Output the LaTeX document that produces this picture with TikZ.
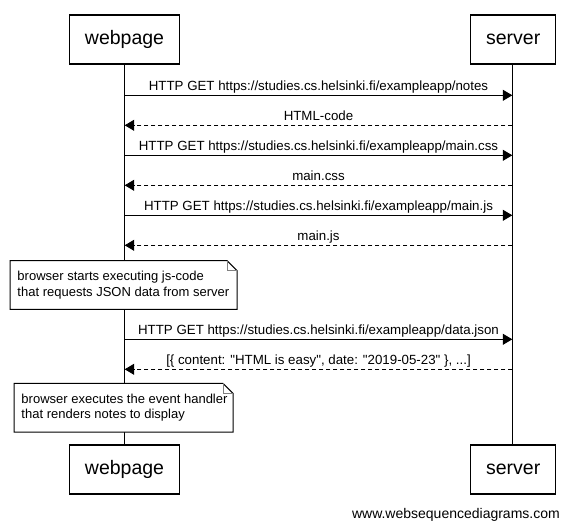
\documentclass[tikz,border=0pt]{standalone}
\usepackage{fontspec}
\setmainfont{Liberation Sans}[Ligatures=TeXOff]
\usetikzlibrary{arrows.meta,calc}
\begin{document}
\begin{tikzpicture}[x=1bp,y=-1bp,
  actor/.style={draw,line width=1.2bp,minimum height=49bp,inner sep=0,
    font=\fontsize{19.5bp}{22bp}\selectfont},
  lifeline/.style={line width=1bp},
  msg/.style={line width=1bp,-{Triangle[length=9.5bp,width=11bp]}},
  ret/.style={msg,dash pattern=on 4bp off 3bp},
  lbl/.style={anchor=base,inner sep=0,yshift=4.5bp,
    font=\fontsize{13.3bp}{15bp}\selectfont},
  notetext/.style={anchor=west,inner sep=0,align=left,
    font=\fontsize{13bp}{15.6bp}\selectfont},
  noteline/.style={line width=1bp,fill=white},
  fold/.style={line width=0.8bp,draw=gray}]
\useasboundingbox[fill=white] (0,0) rectangle (570,528);

% actors
\node[actor,minimum width=110bp] (wt) at (124.5,39.5) {webpage};
\node[actor,minimum width=85bp] (st) at (513.2,39.5) {server};
\node[actor,minimum width=110bp] (wb) at (124.5,469.5) {webpage};
\node[actor,minimum width=85bp] (sb) at (513.2,469.5) {server};

% lifelines
\coordinate (wtop) at (124.7,64);
\coordinate (wbot) at (124.7,445);
\coordinate (stop) at (512.3,64);
\coordinate (sbot) at (512.3,445);
\draw[lifeline] (wtop) -- (wbot);
\draw[lifeline] (stop) -- (sbot);

% message anchor points
\foreach \i/\y in {1/95.3,2/125.3,3/155.3,4/185.3,5/215.3,6/245.3,7/339.3,8/369.3}{
  \coordinate (w\i) at (124.7,\y);
  \coordinate (s\i) at (512.3,\y);
}

\draw[msg] (w1) -- node[lbl]{HTTP GET https://studies.cs.helsinki.fi/exampleapp/notes} (s1);
\draw[ret] (s2) -- node[lbl]{HTML-code} (w2);
\draw[msg] (w3) -- node[lbl]{HTTP GET https://studies.cs.helsinki.fi/exampleapp/main.css} (s3);
\draw[ret] (s4) -- node[lbl]{main.css} (w4);
\draw[msg] (w5) -- node[lbl]{HTTP GET https://studies.cs.helsinki.fi/exampleapp/main.js} (s5);
\draw[ret] (s6) -- node[lbl]{main.js} (w6);
\draw[msg] (w7) -- node[lbl]{HTTP GET https://studies.cs.helsinki.fi/exampleapp/data.json} (s7);
\draw[ret] (s8) -- node[lbl]{[\{ content: "HTML is easy", date: "2019-05-23" \}, ...]} (w8);

% note 1
\draw[noteline] (10,309.3) -- (10,260.7) -- (227,260.7) -- (237,270.7) -- (237,309.3) -- cycle;
\draw[fold] (227,260.7) -- (227,270.7) -- (237,270.7);
\node[notetext] (n1) at (17.3,285)
  {browser starts executing js-code\\that requests JSON data from server};

% note 2
\draw[noteline] (14,432) -- (14,383.3) -- (223,383.3) -- (233,393.3) -- (233,432) -- cycle;
\draw[fold] (223,383.3) -- (223,393.3) -- (233,393.3);
\node[notetext] (n2) at (21.3,407.7)
  {browser executes the event handler\\that renders notes to display};

% watermark
\node[anchor=base east,inner sep=0,font=\fontsize{14bp}{16bp}\selectfont] (wm) at (560,518) {www.websequencediagrams.com};
\end{tikzpicture}
\end{document}
